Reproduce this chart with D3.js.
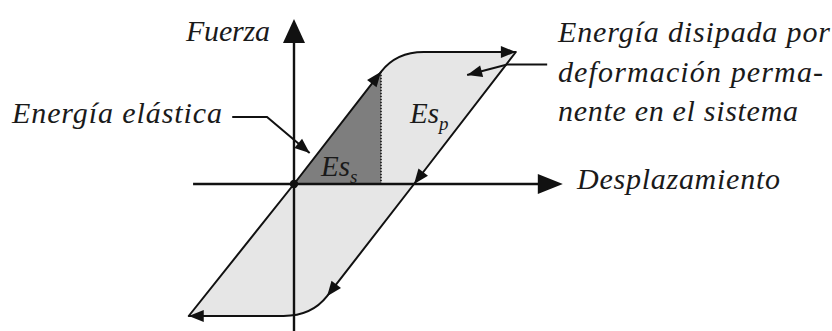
<!DOCTYPE html>
<html>
<head>
<meta charset="utf-8">
<script src="https://cdn.jsdelivr.net/npm/d3@7"></script>
<style>
  body { margin: 0; background: #fff; }
  text { font-family: "Liberation Serif", "Times New Roman", "DejaVu Serif", serif; font-style: italic; fill: #1a1a1a; }
</style>
</head>
<body>
<script>
// hysteresis loop, displacement in units of yield displacement, force in units of yield force
var loopDisp  = [0, 1,    1.49, 2.55, 1.38, 0.38,  -0.12, -1.21];
var loopForce = [0, 0.85, 1,    1,    0,    -0.85, -1,    -1];
var roundedTo = [2, 6];          // segments ending at these points are rounded corners
var arrowAt   = [1, 3, 4, 5, 7]; // arrowheads on the loop

var axisDisp  = [-1.16, 3.09];
var axisForce = [-1.13, 1.25];

// leader lines [disp, force]
var leaderElastic = [[-0.71, 0.508], [-0.31, 0.508], [0.18, 0.235]];
var leaderDissip  = [[2.91, 0.905], [2.45, 0.905], [1.99, 0.826]];

var W = 832, H = 331;
var svg = d3.select("body").append("svg").attr("width", W).attr("height", H);

var x = d3.scaleLinear().domain([0, 1]).range([294, 381]);
var y = d3.scaleLinear().domain([0, 1]).range([184, 52]);

var pts = loopDisp.map((d, i) => [d, loopForce[i]]);

var cornerCtrl = i => {
  var a = pts[i - 2], b = pts[i - 1], f = pts[i][1];
  var t = (f - a[1]) / (b[1] - a[1]);
  return [a[0] + t * (b[0] - a[0]), f];
}

var loopPath = () => {
  var p = d3.path();
  p.moveTo(x(pts[0][0]), y(pts[0][1]));
  for (let i = 1; i < pts.length; i++) {
    if (roundedTo.indexOf(i) >= 0) {
      var c = cornerCtrl(i);
      p.quadraticCurveTo(x(c[0]), y(c[1]), x(pts[i][0]), y(pts[i][1]));
    } else p.lineTo(x(pts[i][0]), y(pts[i][1]));
  }
  p.closePath();
  return p.toString();
}

// light fill of whole loop
svg.append("path").attr("d", loopPath()).attr("fill", "#e6e6e6").attr("stroke", "none");

// elastic triangle
var tri = [pts[0], pts[1], [pts[1][0], 0]];
svg.append("path")
  .attr("d", d3.line().x(d => x(d[0])).y(d => y(d[1]))(tri) + "Z")
  .attr("fill", "#7e7e7e");

// dotted drop line
svg.append("line")
  .attr("x1", x(pts[1][0])).attr("x2", x(pts[1][0]))
  .attr("y1", y(pts[1][1])).attr("y2", y(0))
  .attr("stroke", "#111").attr("stroke-width", 1.6).attr("stroke-dasharray", "1.5,1.5");

// axes
svg.append("line").attr("x1", x(axisDisp[0])).attr("x2", x(axisDisp[1]) - 20)
  .attr("y1", y(0)).attr("y2", y(0)).attr("stroke", "#111").attr("stroke-width", 2.4);
svg.append("line").attr("x1", x(0)).attr("x2", x(0))
  .attr("y1", y(axisForce[1]) + 20).attr("y2", y(axisForce[0])).attr("stroke", "#111").attr("stroke-width", 2.4);

var arrowHead = (tx, ty, ang, len, half) => {
  var ca = Math.cos(ang), sa = Math.sin(ang);
  var bx = tx - len * ca, by = ty - len * sa;
  svg.append("path")
    .attr("d", `M${tx},${ty}L${bx - half * sa},${by + half * ca}L${bx + half * sa},${by - half * ca}Z`)
    .attr("fill", "#111");
}

arrowHead(x(axisDisp[1]), y(0), 0, 25, 10);
arrowHead(x(0), y(axisForce[1]), -Math.PI / 2, 24, 11);

// loop outline
svg.append("path").attr("d", loopPath()).attr("fill", "none")
  .attr("stroke", "#111").attr("stroke-width", 2).attr("stroke-linejoin", "round");

arrowAt.forEach(i => {
  var a = pts[i - 1], b = pts[i];
  var ang = Math.atan2(y(b[1]) - y(a[1]), x(b[0]) - x(a[0]));
  arrowHead(x(b[0]), y(b[1]), ang, 15, 6);
});

// origin dot
svg.append("circle").attr("cx", x(0)).attr("cy", y(0)).attr("r", 4.2).attr("fill", "#111");

// leaders
[leaderElastic, leaderDissip].forEach(l => {
  svg.append("path")
    .attr("d", d3.line().x(d => x(d[0])).y(d => y(d[1]))(l))
    .attr("fill", "none").attr("stroke", "#111").attr("stroke-width", 2);
  var a = l[l.length - 2], b = l[l.length - 1];
  var ang = Math.atan2(y(b[1]) - y(a[1]), x(b[0]) - x(a[0]));
  arrowHead(x(b[0]), y(b[1]), ang, 15, 6);
});

// labels
var label = (txt, tx, ty, size, len) => {
  svg.append("text").attr("x", tx).attr("y", ty).attr("font-size", size)
    .attr("textLength", len).attr("lengthAdjust", "spacing").text(txt);
}
label("Fuerza", 186, 41, 30, 84);
label("Energía elástica", 12, 123, 30, 210);
label("Energía disipada por", 558, 42, 30, 272);
label("deformación perma-", 558, 82, 30, 265);
label("nente en el sistema", 558, 121, 30, 240);
label("Desplazamiento", 577, 189, 30, 203);

var esLabel = (sub, tx, ty) => {
  var t = svg.append("text").attr("x", tx).attr("y", ty).attr("font-size", 29);
  t.append("tspan").text("Es");
  t.append("tspan").attr("dy", 7).attr("font-size", 19).text(sub);
}
esLabel("s", 321, 176);
esLabel("p", 410, 123);
</script>
</body>
</html>
